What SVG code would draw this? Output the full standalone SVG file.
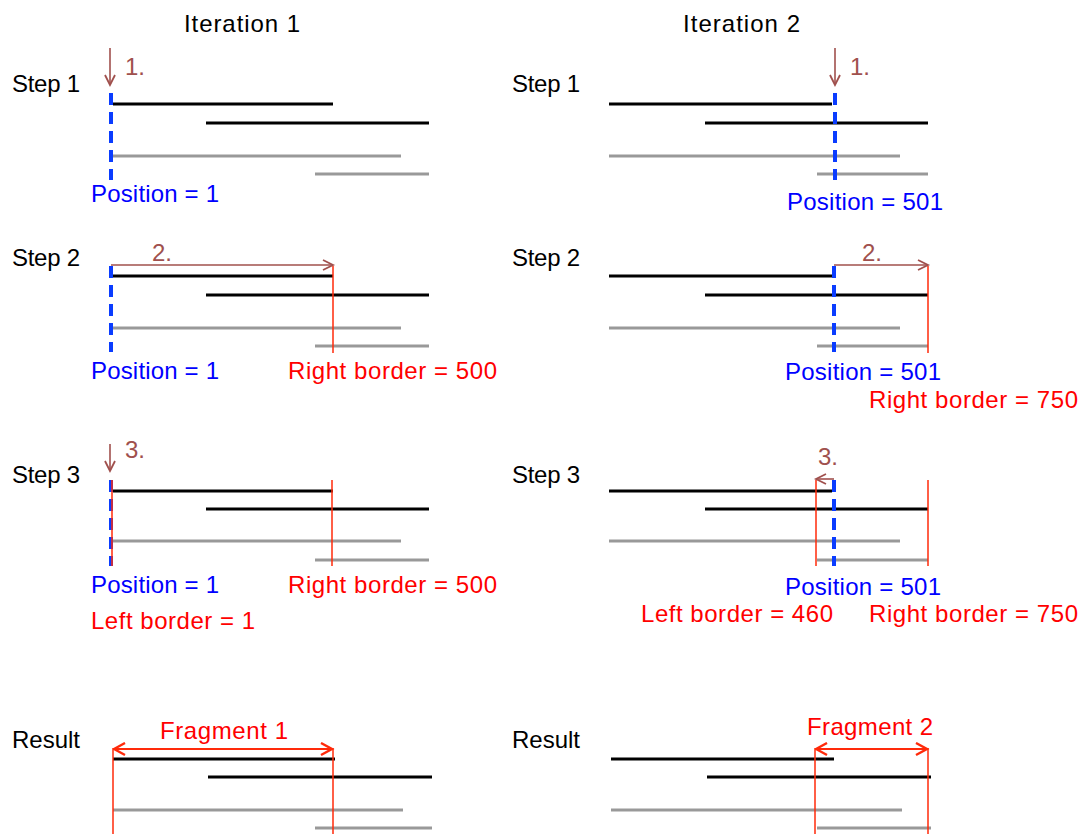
<svg xmlns="http://www.w3.org/2000/svg" width="1083" height="834" viewBox="0 0 1083 834">
<defs>
<style>
text{font-family:"Liberation Sans",Arial,sans-serif;font-size:24px}
.lbl{fill:#000}
.num{fill:#A0504D}
.pos{fill:#0000FF}
.brd{fill:#FF0000}
.blk{stroke:#000;stroke-width:3}
.gry{stroke:#999;stroke-width:3}
.dash{stroke:#0A3CFF;stroke-width:4;stroke-dasharray:12 7}
.red{stroke:#FF2A0A;stroke-width:1.5}
.arr{stroke:#A0504D;stroke-width:1.6;fill:none;marker-end:url(#ah)}
.frag{stroke:#FF2A0A;stroke-width:2;fill:none;marker-start:url(#fs);marker-end:url(#fe)}
</style>
<marker id="ah" markerUnits="userSpaceOnUse" markerWidth="14" markerHeight="14" refX="11" refY="6" orient="auto">
<path d="M1,1 L11,6 L1,11" fill="none" stroke="#A0504D" stroke-width="1.8"/>
</marker>
<marker id="fe" markerUnits="userSpaceOnUse" markerWidth="16" markerHeight="16" refX="12" refY="7" orient="auto">
<path d="M1,1 L12,7 L1,13" fill="none" stroke="#FF2A0A" stroke-width="2.4"/>
</marker>
<marker id="fs" markerUnits="userSpaceOnUse" markerWidth="16" markerHeight="16" refX="1" refY="7" orient="auto">
<path d="M12,1 L1,7 L12,13" fill="none" stroke="#FF2A0A" stroke-width="2.4"/>
</marker>
</defs>
<rect width="1083" height="834" fill="#fff"/>

<g id="titles">
<text class="lbl" x="184" y="32" textLength="116">Iteration 1</text>
<text class="lbl" x="683" y="32" textLength="117">Iteration 2</text>
<text class="lbl" x="12" y="92" textLength="68">Step 1</text>
<text class="lbl" x="12" y="266" textLength="68">Step 2</text>
<text class="lbl" x="12" y="483" textLength="68">Step 3</text>
<text class="lbl" x="12" y="748" textLength="68">Result</text>
<text class="lbl" x="512" y="92" textLength="68">Step 1</text>
<text class="lbl" x="512" y="266" textLength="68">Step 2</text>
<text class="lbl" x="512" y="483" textLength="68">Step 3</text>
<text class="lbl" x="512" y="748" textLength="68">Result</text>
</g>

<g id="it1-step1">
<line class="blk" x1="113" y1="104" x2="333" y2="104"/>
<line class="blk" x1="206" y1="123" x2="429" y2="123"/>
<line class="gry" x1="113" y1="156" x2="401" y2="156"/>
<line class="gry" x1="315" y1="174" x2="429" y2="174"/>
<line class="dash" x1="111" y1="93" x2="111" y2="180"/>
<text class="num" x="125" y="75">1.</text>
<text class="pos" x="91" y="202" textLength="128">Position = 1</text>
</g>

<g id="it2-step1">
<line class="blk" x1="609" y1="104" x2="832" y2="104"/>
<line class="blk" x1="705" y1="123" x2="928" y2="123"/>
<line class="gry" x1="609" y1="156" x2="900" y2="156"/>
<line class="gry" x1="817" y1="174" x2="928" y2="174"/>
<line class="dash" x1="835" y1="93" x2="835" y2="180"/>
<text class="num" x="850" y="75">1.</text>
<text class="pos" x="787" y="210" textLength="156">Position = 501</text>
</g>

<g id="it1-step2">
<line class="blk" x1="113" y1="276" x2="333" y2="276"/>
<line class="blk" x1="206" y1="295" x2="429" y2="295"/>
<line class="gry" x1="113" y1="328" x2="401" y2="328"/>
<line class="gry" x1="315" y1="346" x2="429" y2="346"/>
<line class="dash" x1="111" y1="266" x2="111" y2="352"/>
<line class="red" x1="333" y1="266" x2="333" y2="353"/>
<text class="num" x="152" y="261">2.</text>
<text class="pos" x="91" y="379" textLength="128">Position = 1</text>
<text class="brd" x="288" y="379" textLength="209">Right border = 500</text>
</g>

<g id="it2-step2">
<line class="blk" x1="609" y1="276" x2="832" y2="276"/>
<line class="blk" x1="705" y1="295" x2="928" y2="295"/>
<line class="gry" x1="609" y1="328" x2="900" y2="328"/>
<line class="gry" x1="817" y1="346" x2="928" y2="346"/>
<line class="dash" x1="834" y1="266" x2="834" y2="352"/>
<line class="red" x1="928" y1="266" x2="928" y2="353"/>
<text class="num" x="862" y="261">2.</text>
<text class="pos" x="785" y="380" textLength="156">Position = 501</text>
<text class="brd" x="869" y="408" textLength="209">Right border = 750</text>
</g>

<g id="it1-step3">
<line class="blk" x1="113" y1="491" x2="333" y2="491"/>
<line class="blk" x1="206" y1="509" x2="429" y2="509"/>
<line class="gry" x1="113" y1="541" x2="401" y2="541"/>
<line class="gry" x1="315" y1="560" x2="429" y2="560"/>
<line class="dash" x1="111" y1="480" x2="111" y2="566"/>
<line class="red" x1="112" y1="480" x2="112" y2="566"/>
<line class="red" x1="332" y1="480" x2="332" y2="566"/>
<text class="num" x="125" y="458">3.</text>
<text class="pos" x="91" y="593" textLength="128">Position = 1</text>
<text class="brd" x="288" y="593" textLength="209">Right border = 500</text>
<text class="brd" x="91" y="629" textLength="164">Left border = 1</text>
</g>

<g id="it2-step3">
<line class="blk" x1="609" y1="491" x2="832" y2="491"/>
<line class="blk" x1="705" y1="509" x2="928" y2="509"/>
<line class="gry" x1="609" y1="541" x2="900" y2="541"/>
<line class="gry" x1="817" y1="560" x2="928" y2="560"/>
<line class="red" x1="816" y1="480" x2="816" y2="566"/>
<line class="dash" x1="834" y1="480" x2="834" y2="566"/>
<line class="red" x1="928" y1="480" x2="928" y2="566"/>
<text class="num" x="818" y="465">3.</text>
<text class="pos" x="785" y="595" textLength="156">Position = 501</text>
<text class="brd" x="641" y="622" textLength="192">Left border = 460</text>
<text class="brd" x="869" y="622" textLength="209">Right border = 750</text>
</g>

<g id="it1-result">
<line class="blk" x1="113" y1="759" x2="335" y2="759"/>
<line class="blk" x1="208" y1="777" x2="432" y2="777"/>
<line class="gry" x1="113" y1="810" x2="403" y2="810"/>
<line class="gry" x1="315" y1="828" x2="432" y2="828"/>
<line class="red" x1="113" y1="748" x2="113" y2="834"/>
<line class="red" x1="333" y1="748" x2="333" y2="834"/>
<text class="brd" x="160" y="739" textLength="128">Fragment 1</text>
</g>

<g id="it2-result">
<line class="blk" x1="611" y1="759" x2="834" y2="759"/>
<line class="blk" x1="707" y1="777" x2="931" y2="777"/>
<line class="gry" x1="611" y1="810" x2="902" y2="810"/>
<line class="gry" x1="817" y1="828" x2="931" y2="828"/>
<line class="red" x1="815" y1="748" x2="815" y2="834"/>
<line class="red" x1="928" y1="748" x2="928" y2="834"/>
<text class="brd" x="807" y="735" textLength="126">Fragment 2</text>
</g>

<g id="connectors">
<path class="arr" d="M110,48 L110,85"/>
<path class="arr" d="M835,48 L835,85"/>
<path class="arr" d="M111,265 L333,265"/>
<path class="arr" d="M834,265 L928,265"/>
<path class="arr" d="M110,444 L110,471"/>
<path class="arr" d="M834,479 L816,479"/>
<path class="frag" d="M114,749 L332,749"/>
<path class="frag" d="M816,749 L927,749"/>
</g>
</svg>
